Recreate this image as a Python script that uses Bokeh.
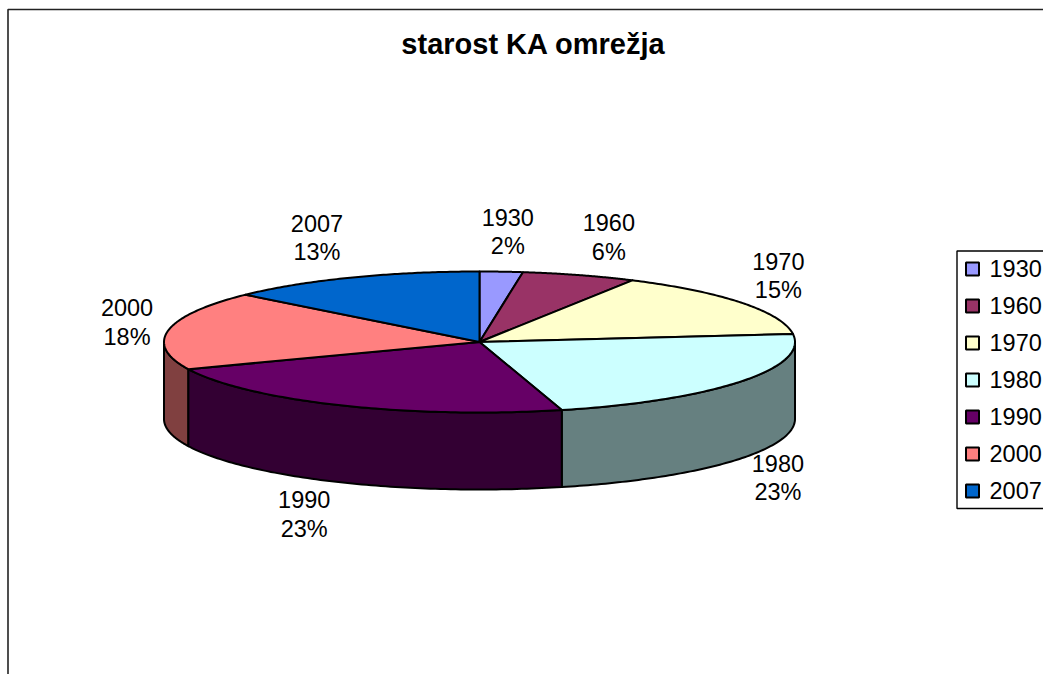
import numpy as np
from bokeh.embed import file_html
from bokeh.models import Range1d
from bokeh.plotting import figure
from bokeh.resources import INLINE
from bokeh.core.properties import value

title_text = "starost KA omrežja"
categories = ["1930", "1960", "1970", "1980", "1990", "2000", "2007"]
shares = [2.2, 5.85, 15.15, 22.6, 22.9, 18.0, 13.3]
colors = ["#9999FF", "#993366", "#FFFFCC", "#CCFFFF", "#660066", "#FF8080", "#0066CC"]
wall_colors = ["#4D4D80", "#4D1A33", "#808066", "#668080", "#330033", "#804040", "#003366"]

# layout
CX, CY, RX, RY, DEPTH = 479.0, 341.5, 315.5, 70.5, 77.0
NUDGE = [(6.5, -40), (29.5, -38), (36.5, -27), (37.5, 19), (-36.5, 32), (-41.5, -8), (-34.5, -40)]
FONT = "Liberation Sans"
LABEL_PX = "23.5px"

p = figure(width=1043, height=674, output_backend="svg", toolbar_location=None,
           x_range=Range1d(0, 1043), y_range=Range1d(674, 0),
           min_border=0, outline_line_color=None)
p.axis.visible = False
p.grid.visible = False
p.background_fill_color = "white"


def rim(a0, a1, dy=0.0, n=90):
    t = np.radians(np.linspace(a0, a1, n))
    return CX + RX * np.sin(t), CY - RY * np.cos(t) + dy


edges = np.concatenate([[0.0], np.cumsum(shares)]) / np.sum(shares) * 360.0

# chart frame (right and bottom edges run off the page)
p.line([7.5, 7.5, 1043], [674, 9, 9], line_color="#222222", line_width=1.6)

# side walls, left and right of the front centre, back to front
for i in [2, 5, 3, 4]:
    a0, a1 = max(edges[i], 90.0), min(edges[i + 1], 270.0)
    if a1 <= a0:
        continue
    xt, yt = rim(a0, a1)
    xb, yb = rim(a1, a0, DEPTH)
    p.patch(np.r_[xt, xb], np.r_[yt, yb], fill_color=wall_colors[i],
            line_color="black", line_width=2.0, line_join="round")

# top face
for i in range(len(shares)):
    xt, yt = rim(edges[i], edges[i + 1])
    p.patch(np.r_[CX, xt], np.r_[CY, yt], fill_color=colors[i],
            line_color="black", line_width=2.0, line_join="round")

# data labels
for i, cat in enumerate(categories):
    mid = (edges[i] + edges[i + 1]) / 2
    x, y = rim(mid, mid, n=1)
    x, y = x[0], y[0]
    if 90 < mid < 270:
        y += DEPTH
    x += NUDGE[i][0]
    y += NUDGE[i][1]
    p.text([x, x], [y - 14.5, y + 14.5], text=[cat, f"{round(shares[i])}%"],
           text_font=value(FONT), text_font_size=LABEL_PX, text_color="black",
           text_align="center", text_baseline="middle")

# title
p.text([533], [43.5], text=[title_text], text_font=value(FONT), text_font_size="29px",
       text_font_style="bold", text_color="black", text_align="center", text_baseline="middle")

# legend
p.quad(left=[956.5], right=[1100], top=[250.5], bottom=[508], fill_color="white",
       line_color="black", line_width=1.4)
for i, cat in enumerate(categories):
    y = 268.5 + 37 * i
    p.quad(left=[965.5], right=[978.5], top=[y - 6.5], bottom=[y + 6.5], fill_color=colors[i],
           line_color="black", line_width=2.0)
    p.text([989], [y - 1], text=[cat], text_font=value(FONT), text_font_size=LABEL_PX,
           text_color="black", text_align="left", text_baseline="middle")

open("out.html", "w").write(file_html(p, INLINE))
